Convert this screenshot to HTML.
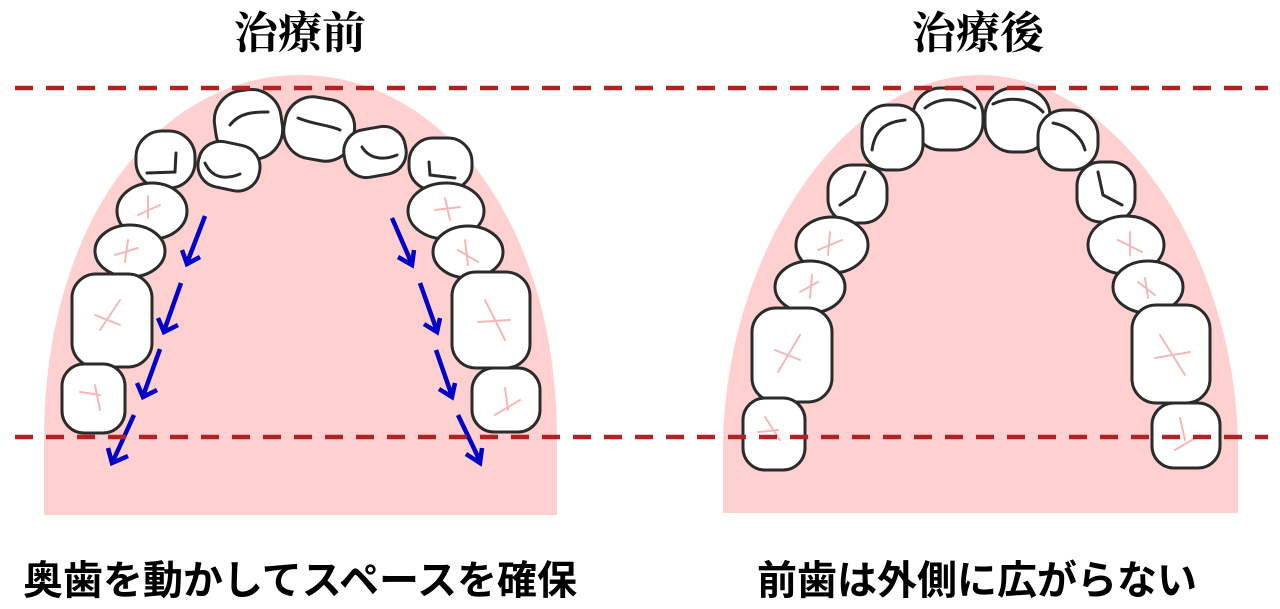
<!DOCTYPE html>
<html><head><meta charset="utf-8"><style>
html,body{margin:0;padding:0;background:#fff;}
svg{display:block}
.t{fill:#fff;stroke:#2b2b2b;stroke-width:3}
.c{fill:none;stroke:#f4b8b8;stroke-width:2;stroke-linecap:round}
.g{fill:none;stroke:#2b2b2b;stroke-width:3;stroke-linecap:round}
.a{fill:none;stroke:#0000c8;stroke-width:4.5;stroke-linecap:butt}
.ti{font-family:"Liberation Serif","Noto Serif CJK SC",serif;font-weight:bold;font-size:44px;text-anchor:middle}
.bt{font-family:"Liberation Sans","Noto Sans CJK JP",sans-serif;font-weight:bold;font-size:40px;text-anchor:middle}
</style></head><body>
<svg width="1280" height="609" viewBox="0 0 1280 609" xmlns="http://www.w3.org/2000/svg">
<path d="M44,515 L44,440 C44,220 160,75 300,75 C440,75 557,220 557,440 L557,515 Z" fill="#ffd0d0"/>
<path d="M723,513 L723,450 C723,260 840,75 980,75 C1120,75 1238,260 1238,450 L1238,513 Z" fill="#ffd0d0"/>

<text x="300" y="48" class="ti">治療前</text>
<text x="978" y="48" class="ti">治療後</text>

<g>
<rect class="t" x="215" y="90" width="67" height="70" rx="30" transform="rotate(-8 248 125)"/>
<path class="g" d="M230,125 C240,112 255,112 268,112"/>
<rect class="t" x="284" y="98" width="70" height="62" rx="28" transform="rotate(10 319 130)"/>
<path class="g" d="M298,118 C315,125 330,125 340,130"/>
<rect class="t" x="198" y="143" width="62" height="46" rx="22" transform="rotate(12 228 166)"/>
<path class="g" d="M205,163 C212,178 225,180 240,174"/>
<rect class="t" x="344" y="128" width="62" height="48" rx="22" transform="rotate(-10 375 152)"/>
<path class="g" d="M362,147 C370,160 385,160 397,155"/>
<rect class="t" x="136" y="131" width="59" height="57" rx="26"/>
<path class="g" d="M147,173 L175,172 L176,153"/>
<rect class="t" x="409" y="138" width="63" height="52" rx="24"/>
<path class="g" d="M429,162 L430,175 L455,178"/>
<ellipse class="t" cx="152" cy="211" rx="35" ry="28"/>
<path class="c" d="M148,196 L148,218 M138,215 L160,205"/>
<ellipse class="t" cx="130" cy="251" rx="35" ry="26"/>
<path class="c" d="M128,240 L125,262 M115,255 L138,248"/>
<rect class="t" x="72" y="274" width="80" height="93" rx="24"/>
<path class="c" d="M120,300 L100,330 M95,315 L120,325"/>
<rect class="t" x="62" y="364" width="63" height="69" rx="22"/>
<path class="c" d="M95,385 L100,410 M80,392 L100,395"/>
<ellipse class="t" cx="446" cy="211" rx="38" ry="28"/>
<path class="c" d="M445,198 L450,220 M435,210 L460,207"/>
<ellipse class="t" cx="468" cy="252" rx="35" ry="26"/>
<path class="c" d="M465,240 L468,265 M458,250 L478,262"/>
<rect class="t" x="452" y="272" width="78" height="96" rx="24"/>
<path class="c" d="M485,300 L505,340 M478,322 L510,320"/>
<rect class="t" x="472" y="368" width="68" height="64" rx="22"/>
<path class="c" d="M505,388 L508,410 M495,415 L520,400"/>
</g>

<g>
<rect class="t" x="913" y="88" width="70" height="62" rx="28"/>
<path class="g" d="M925,108 C940,96 960,98 975,108"/>
<rect class="t" x="985" y="88" width="65" height="64" rx="28"/>
<path class="g" d="M993,104 C1010,96 1030,98 1043,112"/>
<rect class="t" x="862" y="105" width="61" height="65" rx="26"/>
<path class="g" d="M872,150 C875,130 885,122 905,120"/>
<rect class="t" x="1038" y="110" width="60" height="60" rx="26"/>
<path class="g" d="M1053,123 C1070,126 1082,138 1085,150"/>
<rect class="t" x="828" y="165" width="59" height="58" rx="24"/>
<path class="g" d="M840,205 L855,195 L865,172"/>
<rect class="t" x="1077" y="162" width="58" height="60" rx="24"/>
<path class="g" d="M1098,172 L1103,195 L1122,205"/>
<ellipse class="t" cx="832" cy="245" rx="36" ry="28"/>
<path class="c" d="M830,232 L828,255 M818,250 L842,240"/>
<ellipse class="t" cx="810" cy="287" rx="35" ry="26"/>
<path class="c" d="M812,275 L810,298 M800,292 L818,282"/>
<rect class="t" x="752" y="308" width="80" height="94" rx="24"/>
<path class="c" d="M800,335 L778,372 M775,350 L800,360"/>
<rect class="t" x="743" y="398" width="62" height="72" rx="22"/>
<path class="c" d="M765,417 L780,440 M758,432 L778,430"/>
<ellipse class="t" cx="1126" cy="245" rx="38" ry="29"/>
<path class="c" d="M1130,232 L1130,255 M1118,240 L1142,252"/>
<ellipse class="t" cx="1148" cy="287" rx="35" ry="26"/>
<path class="c" d="M1145,278 L1148,298 M1138,282 L1155,295"/>
<rect class="t" x="1132" y="305" width="78" height="98" rx="24"/>
<path class="c" d="M1160,335 L1185,375 M1155,358 L1190,352"/>
<rect class="t" x="1152" y="403" width="68" height="65" rx="22"/>
<path class="c" d="M1180,418 L1185,440 M1175,450 L1200,435"/>
</g>

<g class="a">
<path d="M205,216 L187,263 M182,250 L187,264 L200,257"/>
<path d="M181,283 L164,331 M158,318 L164,332 L178,325"/>
<path d="M160,349 L143,396 M137,383 L143,397 L157,390"/>
<path d="M134,415 L113,461 M108,448 L112,463 L128,456"/>
<path d="M392,218 L412,264 M398,257 L412,265 L414,250"/>
<path d="M420,283 L437,331 M424,324 L437,332 L440,318"/>
<path d="M436,350 L452,396 M439,389 L452,397 L455,383"/>
<path d="M458,415 L480,461 M466,454 L480,463 L482,448"/>
</g>

<g stroke="#b22222" stroke-width="4.5" stroke-dasharray="18 13">
<line x1="15" y1="88" x2="1268" y2="88"/>
<line x1="15" y1="437" x2="1268" y2="437"/>
</g>

<text x="300" y="594" class="bt">奥歯を動かしてスペースを確保</text>
<text x="977" y="594" class="bt">前歯は外側に広がらない</text>
</svg>
</body></html>
